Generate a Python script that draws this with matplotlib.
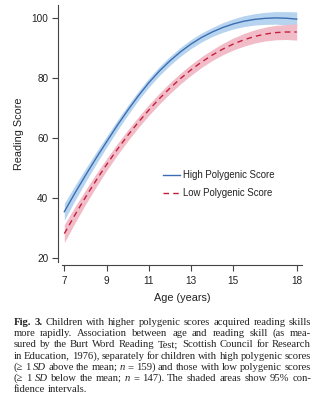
import matplotlib
matplotlib.use("Agg")
import matplotlib.pyplot as plt
from matplotlib import font_manager
import numpy as np

# ---------------- data ----------------
ages = [7.0, 7.5, 8.0, 8.5, 9.0, 9.5, 10.0, 10.5, 11.0, 11.5, 12.0, 12.5,
        13.0, 13.5, 14.0, 14.5, 15.0, 15.5, 16.0, 16.5, 17.0, 17.5, 18.0]
high_score = [35.3, 41.5, 47.4, 53.1, 58.6, 64.0, 69.1, 73.9, 78.3, 82.2, 85.6, 88.6,
              91.2, 93.4, 95.2, 96.7, 97.9, 98.8, 99.4, 99.75, 99.9, 99.8, 99.5]
high_ci = [2.8, 2.5, 2.2, 2.0, 1.8, 1.7, 1.6, 1.5, 1.5, 1.5, 1.5, 1.5,
           1.5, 1.5, 1.5, 1.6, 1.7, 1.8, 1.9, 2.0, 2.1, 2.2, 2.4]
low_score = [28.0, 34.2, 40.1, 45.7, 51.0, 56.0, 60.7, 65.1, 69.2, 73.0, 76.5, 79.7,
             82.6, 85.2, 87.5, 89.5, 91.2, 92.6, 93.7, 94.5, 95.0, 95.2, 95.2]
low_ci = [3.0, 2.7, 2.4, 2.2, 2.0, 1.9, 1.8, 1.8, 1.8, 1.8, 1.8, 1.8,
          1.8, 1.8, 1.8, 1.9, 2.0, 2.1, 2.2, 2.3, 2.4, 2.5, 2.7]
x_ticks = [7, 9, 11, 13, 15, 18]
y_ticks = [20, 40, 60, 80, 100]
series_labels = ["High Polygenic Score", "Low Polygenic Score"]
x_label = "Age (years)"
y_label = "Reading Score"

caption_lines = [
    [("Fig.", "b"), ("3.", "b"), ("Children", ""), ("with", ""), ("higher", ""), ("polygenic", ""),
     ("scores", ""), ("acquired", ""), ("reading", ""), ("skills", "")],
    "more rapidly. Association between age and reading skill (as mea-",
    "sured by the Burt Word Reading Test; Scottish Council for Research",
    "in Education, 1976), separately for children with high polygenic scores",
    [("(≥", ""), ("1", ""), ("SD", "i"), ("above", ""), ("the", ""), ("mean;", ""), ("n", "i"),
     ("=", ""), ("159)", ""), ("and", ""), ("those", ""), ("with", ""), ("low", ""),
     ("polygenic", ""), ("scores", "")],
    [("(≥", ""), ("1", ""), ("SD", "i"), ("below", ""), ("the", ""), ("mean;", ""), ("n", "i"),
     ("=", ""), ("147).", ""), ("The", ""), ("shaded", ""), ("areas", ""), ("show", ""),
     ("95%", ""), ("con-", "")],
    "fidence intervals.",
]

# ---------------- figure ----------------
W, H = 323, 400
fig = plt.figure(figsize=(W / 100, H / 100), dpi=100)
fig.patch.set_facecolor("white")

installed = {f.name for f in font_manager.fontManager.ttflist}
narrow = "Liberation Sans Narrow" in installed
SANS = (["Liberation Sans Narrow"] if narrow else []) + ["Liberation Sans", "DejaVu Sans"]
SERIF = ["Liberation Serif", "DejaVu Serif"]
tick_fs = 8 if narrow else 7.2
lab_fs = 8.5 if narrow else 7.8
leg_fs = 8 if narrow else 6.9

ax_l, ax_r, ax_t, ax_b = 62, 302, 5, 261.5
ax = fig.add_axes([ax_l / W, 1 - ax_b / H, (ax_r - ax_l) / W, (ax_b - ax_t) / H])
ax.set_xlim(6.89, 18.25)
ax.set_ylim(18.7, 104.2)

a = np.array(ages)
hs, hc = np.array(high_score), np.array(high_ci)
ls, lc = np.array(low_score), np.array(low_ci)

blue_line = "#3c6db3"
blue_band = "#b6d4ef"
red_line = "#c4203e"
red_band = "#f1bcc7"

ax.fill_between(a, hs - hc, hs + hc, color=blue_band, lw=0, zorder=1)
ax.fill_between(a, ls - lc, ls + lc, color=red_band, lw=0, zorder=1)
ax.plot(a, hs, color=blue_line, lw=1.0, zorder=3, label=series_labels[0])
ax.plot(a, ls, color=red_line, lw=1.0, ls=(0, (4, 3)), zorder=3, label=series_labels[1])

for s in ["top", "right"]:
    ax.spines[s].set_visible(False)
ax.spines["left"].set_position(("outward", 2.9))
ax.spines["bottom"].set_position(("outward", 2.5))
for s in ["left", "bottom"]:
    ax.spines[s].set_color("#444444")
    ax.spines[s].set_linewidth(0.8)

ax.set_xticks(x_ticks)
ax.set_yticks(y_ticks)
ax.tick_params(axis="both", direction="out", length=4, width=0.8, color="#444444",
               labelsize=tick_fs, labelcolor="#222222")
ax.tick_params(axis="x", pad=4)
ax.tick_params(axis="y", pad=3)
for lab in ax.get_xticklabels() + ax.get_yticklabels():
    lab.set_family(SANS)

ax.set_xlabel(x_label, fontsize=lab_fs, family=SANS, color="#222222", labelpad=5)
ax.set_ylabel(y_label, fontsize=lab_fs, family=SANS, color="#222222", labelpad=5)

leg = ax.legend(loc="upper left", bbox_to_anchor=(163 / W, 1 - 170 / H),
                bbox_transform=fig.transFigure, frameon=False, borderpad=0,
                borderaxespad=0, handlelength=1.75, handletextpad=0.35,
                labelspacing=0.85, prop={"family": SANS, "size": leg_fs})
for t in leg.get_texts():
    t.set_color("#222222")

# ---------------- caption (justified) ----------------
r = fig.canvas.get_renderer()
cap_left, cap_right = 13.5, 311.0
base0, step = 325.0, 11.2


def kw(style, size):
    d = dict(fontsize=size, family=SERIF, color="#222222")
    if style == "b":
        d["fontweight"] = "bold"
    if style == "i":
        d["fontstyle"] = "italic"
    return d


def width(s, style, size):
    t = fig.text(0, 0, s, **kw(style, size))
    w = t.get_window_extent(r).width
    t.remove()
    return w


def split(line):
    if isinstance(line, str):
        return [(w, "") for w in line.split(" ")]
    return line


# pick the largest size for which every justified line keeps a reasonable gap
size = 9.5
while size > 6:
    sp = width("a a", "", size) - width("aa", "", size)
    ok = True
    for line in caption_lines[:-1]:
        words = split(line)
        tot = sum(width(w, st, size) for w, st in words)
        gap = (cap_right - cap_left - tot) / (len(words) - 1)
        if gap < 0.7 * sp:
            ok = False
            break
    if ok:
        break
    size -= 0.1

space_w = width("a a", "", size) - width("aa", "", size)
for i, line in enumerate(caption_lines):
    words = split(line)
    y = 1 - (base0 + i * step) / H
    widths = [width(w, st, size) for w, st in words]
    if i == len(caption_lines) - 1:
        gap = space_w
    else:
        gap = (cap_right - cap_left - sum(widths)) / (len(words) - 1)
    x = cap_left
    for (w, st), wd in zip(words, widths):
        fig.text(x / W, y, w, ha="left", va="baseline", **kw(st, size))
        x += wd + gap

fig.savefig("out.png", dpi=100, facecolor="white")
